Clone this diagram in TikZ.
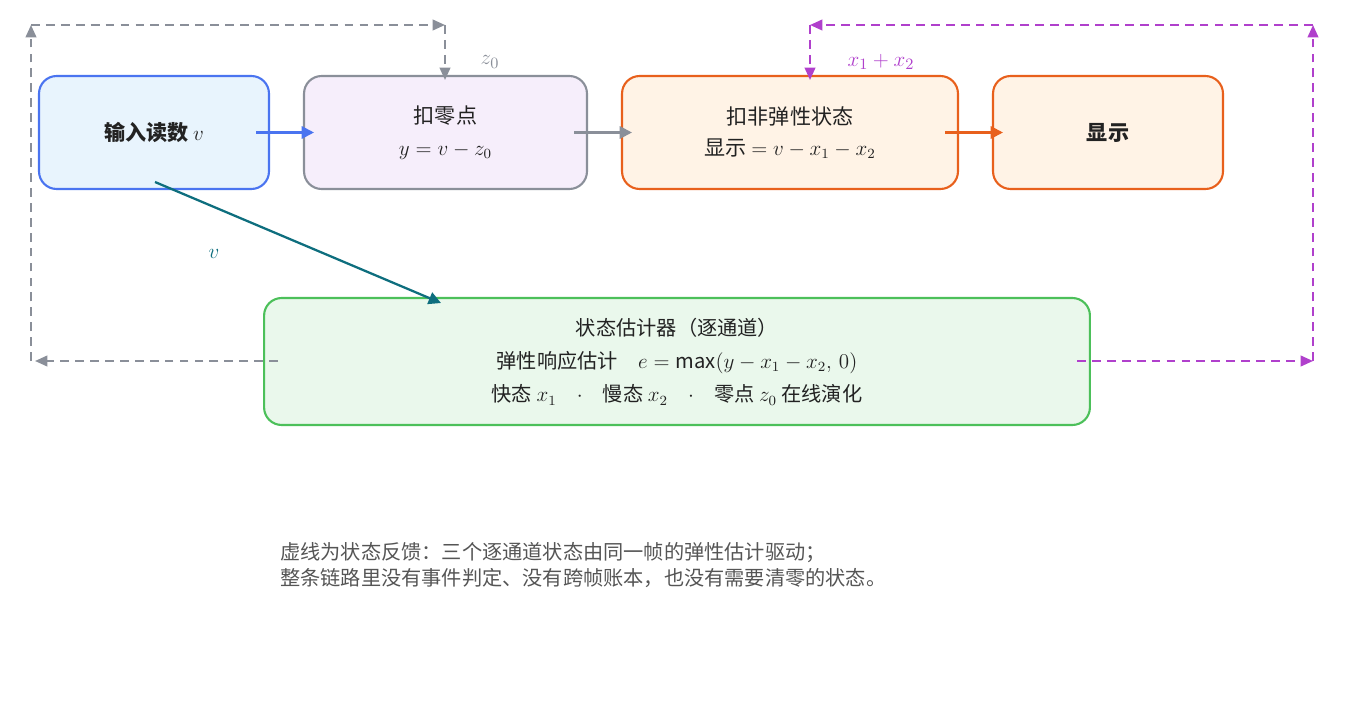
\documentclass[tikz,border=0pt]{standalone}
\usepackage{fontspec}
\setmainfont{Noto Sans CJK SC}
\usetikzlibrary{arrows.meta}
\definecolor{inblue}{HTML}{4A74F0}
\definecolor{infill}{HTML}{E8F4FD}
\definecolor{zgray}{HTML}{8A8F99}
\definecolor{zfill}{HTML}{F6EEFB}
\definecolor{elor}{HTML}{E8601C}
\definecolor{elfill}{HTML}{FFF3E6}
\definecolor{esgreen}{HTML}{4CC05A}
\definecolor{esfill}{HTML}{EAF8EC}
\definecolor{teal}{HTML}{0E6E7E}
\definecolor{purp}{HTML}{B040CC}
\definecolor{notegray}{HTML}{555555}
\definecolor{ink}{HTML}{222222}
\tikzset{
  box/.style={draw, rounded corners=10pt, line width=1.2pt, minimum height=2.26cm, align=center, text=ink, font=\fontsize{12}{18}\selectfont},
  flow/.style={-{Triangle[length=7pt,width=7pt]}, line width=1.3pt},
  fb/.style={-{Triangle[length=7pt,width=6pt]}, line width=1.2pt, dash pattern=on 5pt off 3.5pt},
}
\begin{document}
\begin{tikzpicture}[x=0.02cm,y=-0.02cm]
  \useasboundingbox (0,0) rectangle (1355,723);
  \node[box, draw=inblue, fill=infill, minimum width=4.6cm, font=\fontsize{12}{18}\selectfont\bfseries] (inp) at (154,132.5) {输入读数 $v$};
  \node[box, draw=zgray, fill=zfill, minimum width=5.66cm] (zero) at (445.5,132.5) {扣零点\\$y=v-z_0$};
  \node[box, draw=elor, fill=elfill, minimum width=6.72cm] (elas) at (790,132.5) {扣非弹性状态\\显示 $=v-x_1-x_2$};
  \node[box, draw=elor, fill=elfill, minimum width=4.6cm, font=\fontsize{12}{18}\selectfont\bfseries] (disp) at (1108,132.5) {显示};
  \node[box, draw=esgreen, fill=esfill, minimum width=16.52cm, minimum height=2.54cm, font=\fontsize{11.5}{19}\selectfont] (est) at (677,361.5)
    {状态估计器（逐通道）\\弹性响应估计\quad $e=\max(y-x_1-x_2,\,0)$\\快态 $x_1$\quad$\cdot$\quad 慢态 $x_2$\quad$\cdot$\quad 零点 $z_0$ 在线演化};
  % main flow
  \draw[flow, inblue] ([xshift=-0.28cm]inp.east) -- ([xshift=0.22cm]zero.west);
  \draw[flow, zgray] ([xshift=-0.28cm]zero.east) -- ([xshift=0.22cm]elas.west);
  \draw[flow, elor] ([xshift=-0.28cm]elas.east) -- ([xshift=0.22cm]disp.west);
  \coordinate (vs) at (155,182);
  \coordinate (ve) at (441,303);
  \draw[flow, teal] (vs) -- (ve);
  \node[text=teal, font=\fontsize{13}{15}\selectfont] (vlab) at (214,254) {$v$};
  % feedback z0
  \coordinate (g1) at (278,361);
  \coordinate (g2) at (31,361);
  \coordinate (g3) at (31,25);
  \coordinate (g4) at (445,25);
  \coordinate (g5) at (445,80);
  \draw[fb, zgray] (g1) -- (35,361);
  \draw[fb, zgray] (g2) -- (g3);
  \draw[fb, zgray] (g3) -- (g4);
  \draw[fb, zgray] (g4) -- (g5);
  \node[text=zgray, font=\fontsize{13}{15}\selectfont] (zlab) at (490,62) {$z_0$};
  % feedback x1+x2
  \coordinate (p1) at (1077,361);
  \coordinate (p2) at (1313,361);
  \coordinate (p3) at (1313,25);
  \coordinate (p4) at (810,25);
  \coordinate (p5) at (810,80);
  \draw[fb, purp] (p1) -- (p2);
  \draw[fb, purp] (p2) -- (p3);
  \draw[fb, purp] (p3) -- (p4);
  \draw[fb, purp] (p4) -- (p5);
  \node[text=purp, font=\fontsize{13}{15}\selectfont] (xlab) at (881,62) {$x_1+x_2$};
  % note
  \node[anchor=north west, align=left, text=notegray, font=\fontsize{11.5}{15}\selectfont] (note) at (274,536)
    {虚线为状态反馈：三个逐通道状态由同一帧的弹性估计驱动；\\整条链路里没有事件判定、没有跨帧账本，也没有需要清零的状态。};
\end{tikzpicture}
\end{document}
